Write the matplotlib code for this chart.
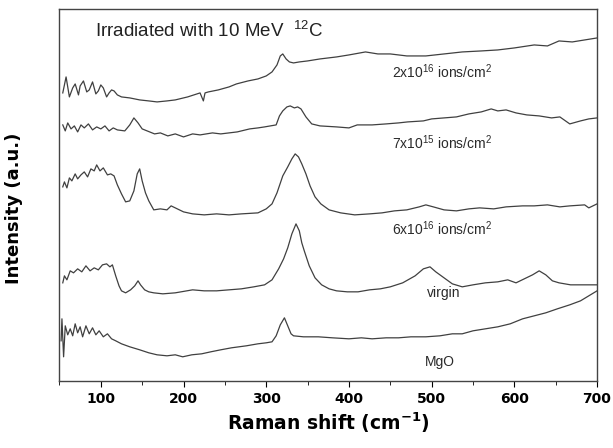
import matplotlib
matplotlib.use('Agg')
import matplotlib.pyplot as plt
from matplotlib.ticker import MultipleLocator

plt.rcParams['font.family'] = ['Liberation Sans', 'DejaVu Sans']
plt.rcParams['mathtext.default'] = 'regular'

# спектри: (Raman shift, інтенсивність у a.u.)
dose_2e16 = [(54, 288), (56, 296), (58, 304), (62, 284), (66, 293), (69, 297), (73, 286), (75, 295),
             (79, 300), (83, 289), (86, 291), (90, 299), (94, 287), (97, 290), (100, 296), (103, 293),
             (107, 284), (110, 288), (113, 291), (116, 290), (120, 286), (125, 284), (135, 283), (147, 281),
             (158, 280), (168, 279), (180, 280), (190, 281), (205, 284), (220, 288), (224, 280), (226, 288),
             (230, 289), (242, 291), (255, 294), (264, 297), (278, 300), (290, 302), (300, 305), (307, 309),
             (313, 316), (317, 325), (320, 327), (324, 322), (328, 319), (333, 318), (340, 319), (350, 320),
             (365, 322), (385, 324), (400, 326), (420, 329), (435, 327), (450, 327), (470, 325), (493, 325),
             (515, 327), (537, 329), (560, 330), (580, 331), (600, 333), (624, 336), (640, 335), (654, 340),
             (670, 339), (685, 341), (700, 343)]

dose_7e15 = [(54, 256), (57, 250), (60, 258), (64, 252), (68, 255), (72, 249), (76, 256), (80, 253),
             (85, 257), (90, 251), (95, 254), (100, 252), (105, 255), (110, 250), (115, 253), (120, 251),
             (129, 250), (135, 256), (140, 263), (145, 258), (150, 252), (156, 250), (165, 247), (172, 248),
             (181, 245), (190, 247), (200, 244), (211, 247), (220, 246), (235, 248), (245, 247), (255, 248),
             (265, 249), (280, 252), (290, 253), (298, 254), (305, 255), (312, 256), (316, 265), (320, 270),
             (325, 274), (329, 275), (334, 273), (338, 274), (342, 272), (348, 264), (355, 257), (365, 255),
             (385, 254), (400, 253), (410, 256), (428, 256), (445, 257), (460, 258), (471, 259), (490, 260),
             (500, 262), (515, 263), (530, 264), (545, 267), (560, 269), (572, 272), (580, 270), (590, 271),
             (602, 268), (615, 266), (630, 265), (645, 263), (655, 264), (667, 257), (680, 260), (690, 262),
             (700, 263)]

dose_6e16 = [(54, 194), (56, 199), (59, 193), (62, 203), (65, 200), (69, 207), (72, 202), (76, 206),
             (80, 209), (84, 204), (88, 212), (92, 210), (95, 216), (99, 210), (103, 213), (108, 206),
             (112, 207), (116, 205), (120, 196), (125, 187), (130, 179), (135, 180), (140, 190), (144, 207),
             (147, 212), (150, 200), (154, 188), (158, 180), (164, 171), (172, 172), (180, 171), (185, 175),
             (190, 173), (200, 169), (211, 167), (225, 166), (240, 167), (255, 166), (270, 167), (290, 168),
             (300, 172), (307, 177), (313, 188), (320, 205), (326, 214), (331, 222), (335, 227), (339, 224),
             (343, 217), (348, 207), (353, 195), (359, 184), (366, 177), (376, 171), (390, 168), (407, 166),
             (425, 167), (440, 168), (455, 170), (470, 171), (485, 174), (493, 176), (502, 174), (515, 171),
             (530, 170), (545, 172), (558, 173), (575, 172), (590, 174), (610, 175), (624, 175), (640, 176),
             (655, 174), (667, 175), (685, 176), (690, 173), (700, 177)]

virgin = [(54, 98), (56, 105), (59, 101), (63, 110), (67, 108), (72, 112), (77, 109), (82, 115),
          (87, 110), (92, 113), (97, 111), (102, 116), (107, 117), (111, 114), (114, 116), (118, 105),
          (122, 95), (125, 90), (130, 88), (136, 91), (141, 95), (145, 100), (148, 96), (153, 91),
          (158, 89), (164, 88), (175, 87), (190, 88), (211, 91), (225, 90), (240, 90), (255, 91),
          (270, 92), (285, 94), (298, 96), (307, 101), (315, 112), (321, 122), (326, 133), (331, 147),
          (336, 157), (340, 150), (343, 138), (346, 130), (352, 115), (359, 103), (367, 96), (376, 92),
          (385, 90), (398, 89), (411, 89), (425, 91), (438, 92), (450, 94), (465, 98), (480, 105),
          (490, 112), (498, 114), (505, 109), (515, 103), (525, 97), (537, 94), (550, 96), (565, 98),
          (580, 99), (592, 101), (602, 98), (612, 102), (622, 106), (630, 110), (638, 106), (646, 100),
          (654, 98), (668, 96), (685, 96), (700, 96)]

mgo = [(52, 40), (53, 62), (55, 24), (57, 55), (60, 46), (63, 52), (66, 45), (69, 57),
       (72, 48), (75, 54), (78, 44), (82, 55), (86, 47), (90, 53), (94, 46), (98, 50),
       (103, 44), (108, 47), (113, 42), (118, 40), (125, 37), (135, 34), (147, 31), (158, 28),
       (168, 26), (180, 25), (190, 26), (199, 24), (210, 26), (222, 27), (233, 29), (245, 31),
       (258, 33), (276, 35), (290, 37), (300, 38), (307, 39), (312, 45), (317, 56), (322, 63),
       (326, 55), (330, 47), (333, 45), (345, 44), (363, 44), (380, 43), (400, 42), (415, 43),
       (428, 42), (445, 43), (460, 43), (475, 44), (493, 44), (510, 45), (525, 47), (537, 47),
       (550, 50), (565, 52), (580, 54), (595, 57), (610, 62), (624, 65), (638, 68), (652, 72),
       (667, 76), (680, 80), (690, 85), (700, 90)]

spectra = [dose_2e16, dose_7e15, dose_6e16, virgin, mgo]
labels = ['2x10$^{16}$ ions/cm$^2$', '7x10$^{15}$ ions/cm$^2$', '6x10$^{16}$ ions/cm$^2$', 'virgin', 'MgO']
label_x = [513, 513, 513, 515, 510]
label_y = [309, 238, 152, 88, 19]

fig = plt.figure(figsize=(6.13, 4.48), dpi=100)
ax = fig.add_axes([0.097, 0.150, 0.877, 0.830])

for sp in spectra:
    xs, ys = zip(*sp)
    ax.plot(xs, ys, color='#404040', lw=0.9)

for txt, lx, ly in zip(labels, label_x, label_y):
    ax.text(lx, ly, txt, ha='center', va='center', fontsize=10, color='#2a2a2a')

ax.text(93, 350, 'Irradiated with 10 MeV  $^{12}$C', ha='left', va='center', fontsize=13.5, color='#222222')

ax.set_xlim(50, 700)
ax.set_ylim(0, 372)
ax.set_yticks([])
ax.xaxis.set_major_locator(MultipleLocator(100))
ax.xaxis.set_minor_locator(MultipleLocator(50))
ax.tick_params(axis='x', which='major', direction='out', length=4, pad=4)
ax.tick_params(axis='x', which='minor', direction='out', length=3)
for lbl in ax.get_xticklabels():
    lbl.set_fontfamily('DejaVu Sans')
    lbl.set_fontweight('bold')
    lbl.set_fontsize(10)
for s in ax.spines.values():
    s.set_color('#444444')
    s.set_linewidth(1.0)

ax.set_xlabel('Raman shift (cm$^{-1}$)', fontsize=13.5, fontweight='bold', family='DejaVu Sans', labelpad=3)
ax.set_ylabel('Intensity (a.u.)', fontsize=13, fontweight='bold', family='DejaVu Sans')
ax.yaxis.set_label_coords(-0.068, 0.464)

fig.savefig('out.png', dpi=100)
